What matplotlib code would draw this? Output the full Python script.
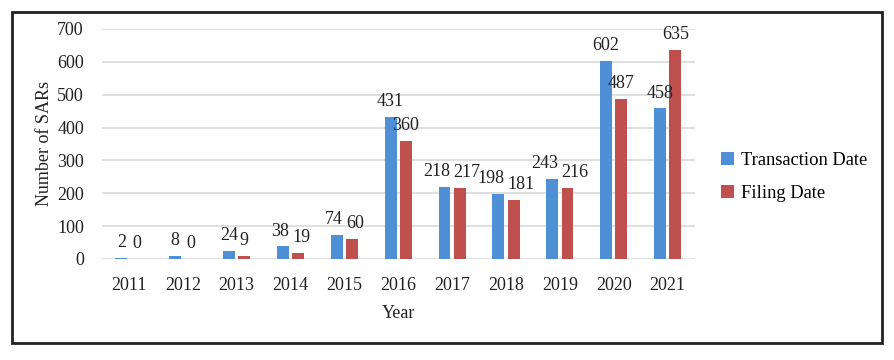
import matplotlib
matplotlib.use("Agg")
import matplotlib.pyplot as plt
import numpy as np
from matplotlib.patches import Rectangle

years = ["2011", "2012", "2013", "2014", "2015", "2016", "2017", "2018", "2019", "2020", "2021"]
transaction = [2, 8, 24, 38, 74, 431, 218, 198, 243, 602, 458]
filing = [0, 0, 9, 19, 60, 360, 217, 181, 216, 487, 635]

plt.rcParams['font.family'] = ['Liberation Serif', 'DejaVu Serif']

fig = plt.figure(figsize=(8.95, 3.6), dpi=100)
ax = fig.add_axes([0.114, 0.2806, 0.662, 0.6389])

x = np.arange(len(years))
w = 0.22
gap = 0.065
blue = "#4E8FD6"
red = "#C0504D"
b1 = ax.bar(x - (w + gap) / 2, transaction, w, color=blue, label="Transaction Date", zorder=3)
b2 = ax.bar(x + (w + gap) / 2, filing, w, color=red, label="Filing Date", zorder=3)

labels = {0: [], 1: []}
for k, (bars, vals) in enumerate(((b1, transaction), (b2, filing))):
    for r, v in zip(bars, vals):
        t = ax.annotate(str(v), (r.get_x() + r.get_width() / 2, v), xytext=(0, 5),
                        textcoords="offset points", ha="center", va="bottom",
                        fontsize=13, color="#222222")
        labels[k].append(t)

ax.set_xlim(-0.5, len(years) - 0.5)
ax.set_ylim(0, 700)
ax.set_yticks(range(0, 701, 100))
ax.set_xticks(x)
ax.set_xticklabels(years)
ax.tick_params(axis="both", length=0, labelsize=13, colors="#222222")
ax.tick_params(axis="x", pad=13)
ax.tick_params(axis="y", pad=13)
ax.grid(axis="y", color="#D9D9D9", linewidth=1.2, zorder=0)
for s in ax.spines.values():
    s.set_visible(False)

ax.set_xlabel("Year", fontsize=13, color="#222222", labelpad=8)
ax.set_ylabel("Number of SARs", fontsize=13, color="#222222", labelpad=3)

leg = ax.legend(loc="center left", bbox_to_anchor=(1.045, 0.357), frameon=False,
                fontsize=13.3, handlelength=0.7, handleheight=0.7, handletextpad=0.35,
                labelspacing=0.85, borderpad=0, borderaxespad=0)

fig.patches.append(Rectangle((12 / 895, 1 - 343 / 360), 870 / 895, 331 / 360,
                             transform=fig.transFigure, fill=False,
                             edgecolor="#222222", linewidth=2))

# resolve overlapping value labels within each group (like Excel label nudging)
fig.canvas.draw()
renderer = fig.canvas.get_renderer()
for tb, tr in zip(labels[0], labels[1]):
    bb1 = tb.get_window_extent(renderer)
    bb2 = tr.get_window_extent(renderer)
    if bb1.overlaps(bb2):
        overlap = bb1.x1 - bb2.x0 + 3
        shift_pt = overlap / 2 * 72 / fig.dpi
        tb.set_position((-shift_pt, 5))
        tr.set_position((shift_pt, 5))

fig.savefig("out.png", dpi=100)
